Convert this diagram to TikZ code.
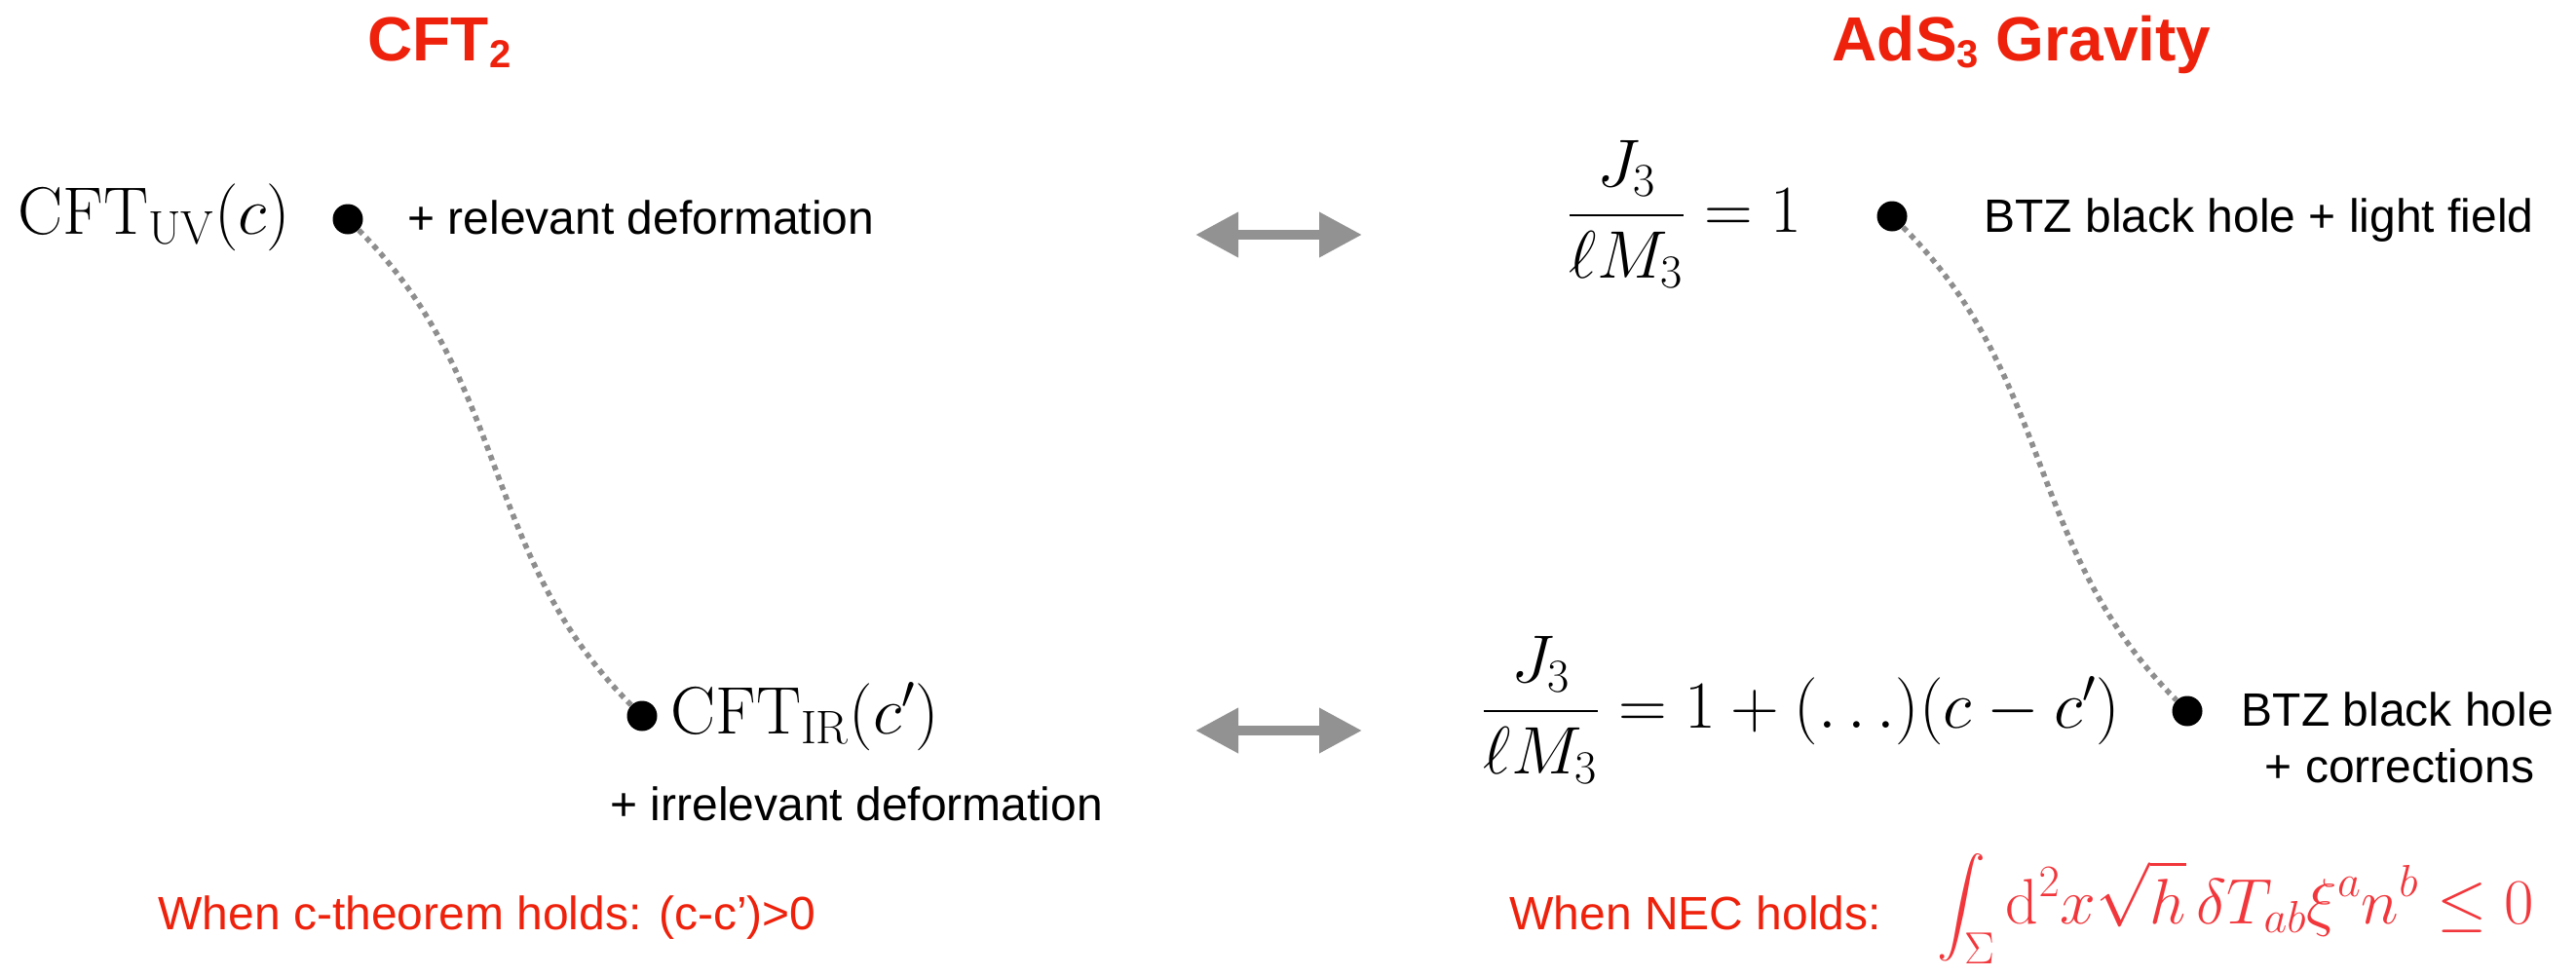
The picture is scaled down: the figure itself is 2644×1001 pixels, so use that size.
\RequirePackage{fix-cm}
\documentclass[tikz,border=0pt]{standalone}
\usepackage{amsmath}
\usepackage{fontspec}
\setsansfont{Liberation Sans}
\usetikzlibrary{arrows.meta}
\definecolor{kred}{RGB}{238,34,12}
\definecolor{fred}{RGB}{242,55,60}
\definecolor{agray}{RGB}{146,146,146}
\definecolor{dgray}{RGB}{142,142,142}
\newcommand{\tsub}[1]{\raisebox{-0.12em}{\fontsize{20}{20}\selectfont #1}}
\begin{document}
\begin{tikzpicture}[x=0.5pt,y=-0.5pt,
  title/.style={font=\sffamily\bfseries\fontsize{32}{38}\selectfont, text=kred, inner sep=0},
  lbl/.style={font=\sffamily\fontsize{24}{29}\selectfont, inner sep=0},
  redlbl/.style={lbl, text=kred},
  mathlbl/.style={font=\fontsize{34.5}{40}\selectfont, inner sep=0},
  intlbl/.style={font=\fontsize{33}{38}\selectfont, inner sep=0},
  pt/.style={circle, fill=black, inner sep=0, minimum size=15.5pt},
  flow/.style={draw=dgray, line width=2.8pt, dash pattern=on 2.8pt off 2.6pt},
  dual/.style={draw=agray, line width=5pt, {Triangle[length=22pt,width=22pt]}-{Triangle[length=22pt,width=22pt]}}
]
\useasboundingbox (0,0) rectangle (2644,1001);
\fill[white] (0,0) rectangle (2644,1001);

% titles
\node[title, anchor=base] (t1) at (451,62) {CFT\tsub{2}};
\node[title, anchor=base] (t2) at (2075,62) {AdS\tsub{3} Gravity};

% left column
\node[mathlbl, anchor=base west] (uv) at (18,240) {$\mathrm{CFT}_{\mathrm{UV}}(c)$};
\node[pt] (uvdot) at (357,225) {};
\node[lbl, anchor=base west] (rel) at (418,240) {+ relevant deformation};

\node[pt] (irdot) at (659,735) {};
\node[mathlbl, anchor=base west] (ir) at (688,753) {$\mathrm{CFT}_{\mathrm{IR}}(c')$};
\node[lbl, anchor=base west] (irrel) at (626,842) {+ irrelevant deformation};

\node[redlbl, anchor=base west] (cth) at (162,954) {When c-theorem holds: (c-c’)>0};

% right column
\node[mathlbl, anchor=base west] (eqtop) at (1608,238) {$\dfrac{J_3}{\ell M_3} = 1$};
\node[pt] (topdot) at (1942,222) {};
\node[lbl, anchor=base west] (btztop) at (2036,238) {BTZ black hole + light field};

\node[mathlbl, anchor=base west] (eqbot) at (1520,747) {$\dfrac{J_3}{\ell M_3} = 1 + (\ldots)(c - c')$};
\node[pt] (botdot) at (2245,730) {};
\node[lbl, anchor=base] (btzb) at (2461,745) {BTZ black hole};
\node[lbl, anchor=base] (btzc) at (2463,803) {+ corrections};

\node[redlbl, anchor=base west] (nec) at (1549,954) {When NEC holds:};
\node[intlbl, anchor=base west, text=fred] (necint) at (1988,948)
  {$\displaystyle\int_\Sigma \mathrm{d}^2x\sqrt{h}\,\delta T_{ab}\xi^a n^b \leq 0$};

% RG flows
\draw[flow] (uvdot) to[out=-45,in=135] (irdot);
\draw[flow] (topdot) to[out=-45,in=135] (botdot);

% dualities
\coordinate (arrtl) at (1227,241);
\coordinate (arrtr) at (1398,241);
\coordinate (arrbl) at (1227,750);
\coordinate (arrbr) at (1398,750);
\draw[dual] (arrtl) -- (arrtr);
\draw[dual] (arrbl) -- (arrbr);
\end{tikzpicture}
\end{document}
